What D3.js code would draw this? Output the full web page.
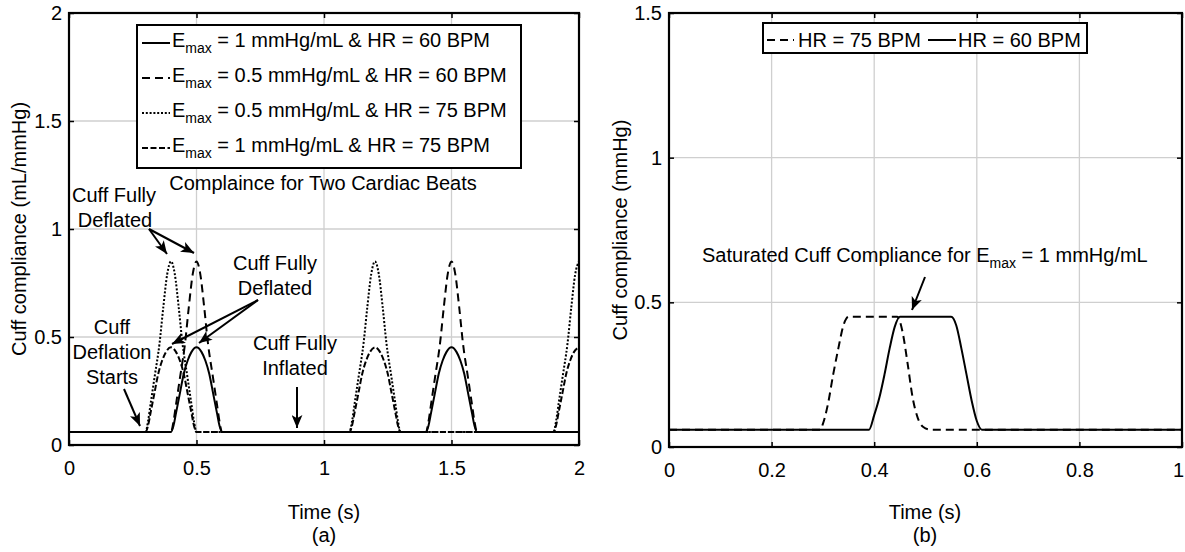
<!DOCTYPE html>
<html>
<head>
<meta charset="utf-8">
<script src="https://cdn.jsdelivr.net/npm/d3@7"></script>
<style>
  body { margin: 0; background: #fff; }
  svg { display: block; }
  text { font-family: "Liberation Sans", Arial, sans-serif; font-size: 20px; fill: #000; }
  .grid line { stroke: #cfcfcf; stroke-width: 1.3; }
</style>
</head>
<body>
<div id="chart"></div>
<script>
(function () {
  /* ----------------------- Data ----------------------- */
  // panel (a): compliance over two beats, [time (s), compliance (mL/mmHg)]
  const emax1Hr60 = [
    [0, 0.06], [0.4, 0.06], [0.41, 0.09], [0.42, 0.15], [0.435, 0.24], [0.45, 0.33], [0.465, 0.39],
    [0.48, 0.43], [0.5, 0.452], [0.52, 0.43], [0.535, 0.39], [0.55, 0.33], [0.565, 0.24], [0.58, 0.15],
    [0.59, 0.09], [0.6, 0.06], [1.4, 0.06], [1.41, 0.09], [1.42, 0.15], [1.435, 0.24], [1.45, 0.33],
    [1.465, 0.39], [1.48, 0.43], [1.5, 0.452], [1.52, 0.43], [1.535, 0.39], [1.55, 0.33], [1.565, 0.24],
    [1.58, 0.15], [1.59, 0.09], [1.6, 0.06], [2, 0.06]
  ];
  const emax05Hr60 = [
    [0, 0.06], [0.4, 0.06], [0.41, 0.11], [0.42, 0.19], [0.435, 0.31], [0.455, 0.47], [0.47, 0.64],
    [0.485, 0.79], [0.5, 0.85], [0.515, 0.79], [0.53, 0.64], [0.545, 0.47], [0.565, 0.31], [0.58, 0.19],
    [0.59, 0.11], [0.6, 0.06], [1.4, 0.06], [1.41, 0.11], [1.42, 0.19], [1.435, 0.31], [1.455, 0.47],
    [1.47, 0.64], [1.485, 0.79], [1.5, 0.85], [1.515, 0.79], [1.53, 0.64], [1.545, 0.47], [1.565, 0.31],
    [1.58, 0.19], [1.59, 0.11], [1.6, 0.06], [2, 0.06]
  ];
  const emax05Hr75 = [
    [0, 0.06], [0.3, 0.06], [0.31, 0.11], [0.32, 0.19], [0.335, 0.31], [0.355, 0.47], [0.37, 0.64],
    [0.385, 0.79], [0.4, 0.85], [0.415, 0.79], [0.43, 0.64], [0.445, 0.47], [0.465, 0.31], [0.48, 0.19],
    [0.49, 0.11], [0.5, 0.06], [1.1, 0.06], [1.11, 0.11], [1.12, 0.19], [1.135, 0.31], [1.155, 0.47],
    [1.17, 0.64], [1.185, 0.79], [1.2, 0.85], [1.215, 0.79], [1.23, 0.64], [1.245, 0.47], [1.265, 0.31],
    [1.28, 0.19], [1.29, 0.11], [1.3, 0.06], [1.9, 0.06], [1.91, 0.11], [1.92, 0.19], [1.935, 0.31],
    [1.955, 0.47], [1.97, 0.64], [1.985, 0.79], [2, 0.85]
  ];
  const emax1Hr75 = [
    [0, 0.06], [0.3, 0.06], [0.31, 0.09], [0.32, 0.15], [0.335, 0.24], [0.35, 0.33], [0.365, 0.39],
    [0.38, 0.43], [0.4, 0.452], [0.42, 0.43], [0.435, 0.39], [0.45, 0.33], [0.465, 0.24], [0.48, 0.15],
    [0.49, 0.09], [0.5, 0.06], [1.1, 0.06], [1.11, 0.09], [1.12, 0.15], [1.135, 0.24], [1.15, 0.33],
    [1.165, 0.39], [1.18, 0.43], [1.2, 0.452], [1.22, 0.43], [1.235, 0.39], [1.25, 0.33], [1.265, 0.24],
    [1.28, 0.15], [1.29, 0.09], [1.3, 0.06], [1.9, 0.06], [1.91, 0.09], [1.92, 0.15], [1.935, 0.24],
    [1.95, 0.33], [1.965, 0.39], [1.98, 0.43], [2, 0.452]
  ];

  // panel (b): saturated compliance, [time (s), compliance]
  const satHr75 = [
    [0, 0.06], [0.295, 0.06], [0.3, 0.08], [0.31, 0.15], [0.32, 0.25], [0.33, 0.34], [0.34, 0.42],
    [0.35, 0.45], [0.445, 0.45], [0.455, 0.4], [0.465, 0.29], [0.475, 0.17], [0.485, 0.1], [0.495, 0.07],
    [0.51, 0.06], [1, 0.06]
  ];
  const satHr60 = [
    [0, 0.06], [0.39, 0.06], [0.4, 0.11], [0.41, 0.17], [0.42, 0.25], [0.43, 0.34], [0.44, 0.415],
    [0.45, 0.45], [0.55, 0.45], [0.56, 0.42], [0.57, 0.34], [0.58, 0.25], [0.59, 0.16], [0.6, 0.09],
    [0.61, 0.06], [1, 0.06]
  ];

  const ticksA_x = [0, 0.5, 1, 1.5, 2];
  const ticksA_y = [0, 0.5, 1, 1.5, 2];
  const ticksB_x = [0, 0.2, 0.4, 0.6, 0.8, 1];
  const ticksB_y = [0, 0.5, 1, 1.5];

  /* ----------------------- SVG ----------------------- */
  const W = 1185, H = 552;
  const svg = d3.select("#chart").append("svg").attr("width", W).attr("height", H);

  const defs = svg.append("defs");
  defs.append("marker")
    .attr("id", "arrow")
    .attr("viewBox", "0 0 12 10")
    .attr("refX", 12).attr("refY", 5)
    .attr("markerWidth", 13).attr("markerHeight", 11)
    .attr("markerUnits", "userSpaceOnUse")
    .attr("orient", "auto")
    .append("path")
    .attr("d", "M0,0 L12,5 L0,10 L3,5 z")
    .attr("fill", "#000");

  const styles = {
    solid: null,
    dashed: "8,5",
    dotted: "2,1.8",
    dashdot: "6,2.5"
  };

  function panel(id, box, xDom, yDom, xTicks, yTicks) {
    const g = svg.append("g").attr("transform", `translate(${box.x},${box.y})`);
    const x = d3.scaleLinear().domain(xDom).range([0, box.w]);
    const y = d3.scaleLinear().domain(yDom).range([box.h, 0]);

    // grid
    const grid = g.append("g").attr("class", "grid");
    grid.selectAll(".gx").data(xTicks.slice(1, -1)).enter().append("line")
      .attr("x1", d => x(d)).attr("x2", d => x(d)).attr("y1", 0).attr("y2", box.h);
    grid.selectAll(".gy").data(yTicks.slice(1, -1)).enter().append("line")
      .attr("y1", d => y(d)).attr("y2", d => y(d)).attr("x1", 0).attr("x2", box.w);

    defs.append("clipPath").attr("id", "clip-" + id)
      .append("rect").attr("width", box.w).attr("height", box.h);

    const fmt = d => String(d);
    const bottom = g.append("g").attr("transform", `translate(0,${box.h})`)
      .call(d3.axisBottom(x).tickValues(xTicks).tickSizeInner(-5).tickSizeOuter(0).tickPadding(16).tickFormat(fmt));
    g.append("g")
      .call(d3.axisLeft(y).tickValues(yTicks).tickSizeInner(-5).tickSizeOuter(0).tickPadding(7).tickFormat(fmt));
    g.append("g").call(d3.axisTop(x).tickValues(xTicks).tickSizeInner(-5).tickSizeOuter(0).tickFormat(""));
    g.append("g").attr("transform", `translate(${box.w},0)`)
      .call(d3.axisRight(y).tickValues(yTicks).tickSizeInner(-5).tickSizeOuter(0).tickFormat(""));
    g.selectAll(".domain").remove();
    g.selectAll(".tick line").attr("stroke", "#000").attr("stroke-width", 1.5);
    g.selectAll(".tick text").attr("font-size", 20).attr("font-family", null);

    g.append("rect").attr("width", box.w).attr("height", box.h)
      .attr("fill", "none").attr("stroke", "#000").attr("stroke-width", 2.2);

    const line = d3.line().x(d => x(d[0])).y(d => y(d[1])).curve(d3.curveMonotoneX);
    const plot = g.append("g").attr("clip-path", `url(#clip-${id})`);
    return { g, x, y, line, plot, bottom };
  }

  function drawSeries(p, data, style) {
    p.plot.append("path")
      .datum(data)
      .attr("d", p.line)
      .attr("fill", "none")
      .attr("stroke", "#000")
      .attr("stroke-width", 2)
      .attr("stroke-dasharray", styles[style]);
  }

  function emaxText(sel, before, after) {
    sel.append("tspan").text(before + "E");
    sel.append("tspan").attr("dy", 6).attr("font-size", 14).text("max");
    sel.append("tspan").attr("dy", -6).text(after);
  }

  function arrow(x1, y1, x2, y2) {
    svg.append("line")
      .attr("x1", x1).attr("y1", y1).attr("x2", x2).attr("y2", y2)
      .attr("stroke", "#000").attr("stroke-width", 2)
      .attr("marker-end", "url(#arrow)");
  }

  function label(x, y, txt, anchor) {
    return svg.append("text").attr("x", x).attr("y", y)
      .attr("text-anchor", anchor || "middle").text(txt);
  }

  /* ----------------------- Panel (a) ----------------------- */
  const pa = panel("a", { x: 69, y: 13, w: 510, h: 432 }, [0, 2], [0, 2], ticksA_x, ticksA_y);
  drawSeries(pa, emax1Hr75, "dashdot");
  drawSeries(pa, emax05Hr75, "dotted");
  drawSeries(pa, emax05Hr60, "dashed");
  drawSeries(pa, emax1Hr60, "solid");

  // legend (a)
  const legA = [
    { style: "solid", txt: " = 1 mmHg/mL & HR = 60 BPM" },
    { style: "dashed", txt: " = 0.5 mmHg/mL & HR = 60 BPM" },
    { style: "dotted", txt: " = 0.5 mmHg/mL & HR = 75 BPM" },
    { style: "dashdot", txt: " = 1 mmHg/mL & HR = 75 BPM" }
  ];
  svg.append("rect").attr("x", 137).attr("y", 25).attr("width", 384).attr("height", 143)
    .attr("fill", "#fff").attr("stroke", "#000").attr("stroke-width", 2);
  legA.forEach((d, i) => {
    const base = 47 + i * 35;
    svg.append("line").attr("x1", 142).attr("x2", 170).attr("y1", base - 4).attr("y2", base - 4)
      .attr("stroke", "#000").attr("stroke-width", 2).attr("stroke-dasharray", styles[d.style]);
    const t = svg.append("text").attr("x", 172).attr("y", base);
    emaxText(t, "", d.txt);
  });

  label(323, 190, "Complaince for Two Cardiac Beats");
  label(114, 202, "Cuff Fully");
  label(115, 227, "Deflated");
  arrow(149, 229, 167, 254);
  arrow(149, 229, 194, 253);
  label(275, 270, "Cuff Fully");
  label(275, 295, "Deflated");
  arrow(258, 300, 172, 344);
  arrow(258, 300, 199, 343);
  label(112, 334, "Cuff");
  label(112, 359, "Deflation");
  label(112, 384, "Starts");
  arrow(124, 389, 140, 426);
  label(295, 350, "Cuff Fully");
  label(295, 375, "Inflated");
  arrow(297, 387, 297, 428);

  svg.append("text").attr("transform", "translate(26,229) rotate(-90)")
    .attr("text-anchor", "middle").text("Cuff compliance (mL/mmHg)");
  label(324, 519, "Time (s)");
  label(324, 542, "(a)");

  /* ----------------------- Panel (b) ----------------------- */
  const pb = panel("b", { x: 669, y: 13, w: 513, h: 434 }, [0, 1], [0, 1.5], ticksB_x, ticksB_y);
  drawSeries(pb, satHr75, "dashed");
  drawSeries(pb, satHr60, "solid");
  // last x tick label sits right at the page edge; nudge it inside
  pb.bottom.selectAll(".tick text").filter(d => d === 1).attr("dx", -4);

  svg.append("rect").attr("x", 763).attr("y", 23).attr("width", 324).attr("height", 30)
    .attr("fill", "#fff").attr("stroke", "#000").attr("stroke-width", 2);
  svg.append("line").attr("x1", 767).attr("x2", 794).attr("y1", 40).attr("y2", 40)
    .attr("stroke", "#000").attr("stroke-width", 2).attr("stroke-dasharray", styles.dashed);
  label(798, 47, "HR = 75 BPM", "start");
  svg.append("line").attr("x1", 928).attr("x2", 956).attr("y1", 40).attr("y2", 40)
    .attr("stroke", "#000").attr("stroke-width", 2);
  label(958, 47, "HR = 60 BPM", "start");

  const sat = svg.append("text").attr("x", 702).attr("y", 262);
  emaxText(sat, "Saturated Cuff Compliance for ", " = 1 mmHg/mL");
  arrow(925, 277, 912, 310);

  svg.append("text").attr("transform", "translate(627,230) rotate(-90)")
    .attr("text-anchor", "middle").text("Cuff compliance (mmHg)");
  label(925, 519, "Time (s)");
  label(925, 542, "(b)");
})();
</script>
</body>
</html>
